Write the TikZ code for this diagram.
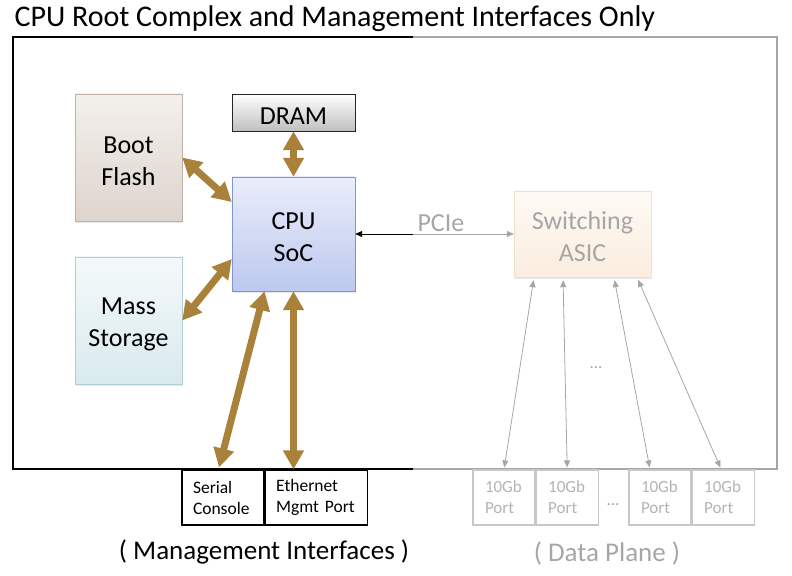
\documentclass[tikz,border=0pt]{standalone}
\usepackage{fontspec}
\setmainfont{Carlito}
\usetikzlibrary{positioning,arrows.meta,shadows}

\definecolor{brownarr}{RGB}{169,129,58}
\definecolor{planegray}{RGB}{166,166,166}
\definecolor{portgray}{RGB}{200,200,200}
\definecolor{bootline}{RGB}{190,176,166}
\definecolor{boottop}{RGB}{243,240,237}
\definecolor{bootbot}{RGB}{222,212,204}
\definecolor{cpuline}{RGB}{126,150,204}
\definecolor{cputop}{RGB}{234,237,250}
\definecolor{cpubot}{RGB}{188,200,238}
\definecolor{massline}{RGB}{176,205,211}
\definecolor{masstop}{RGB}{244,249,250}
\definecolor{massbot}{RGB}{217,234,238}
\definecolor{asicline}{RGB}{242,226,204}
\definecolor{asictop}{RGB}{253,250,245}
\definecolor{asicbot}{RGB}{251,237,222}

\begin{document}
\begin{tikzpicture}[x=1bp,y=-1bp,
  box/.style={draw,align=center,inner sep=0pt,font=\fontsize{26bp}{32bp}\selectfont,
    text height=56bp,
    drop shadow={shadow xshift=1bp,shadow yshift=-1.5bp,opacity=.18}},
  iface/.style={draw,line width=1.2bp,align=left,inner xsep=11bp,inner ysep=0pt,
    minimum height=55bp,font=\fontsize{17.5bp}{21bp}\selectfont},
  port/.style={draw=portgray,line width=1.2bp,align=left,text=planegray!85,inner xsep=12bp,
    inner ysep=0pt,text width=38bp,minimum height=55bp,font=\fontsize{17bp}{21bp}\selectfont},
  bigarr/.style={brownarr,line width=7bp,
    {Triangle[width=20bp,length=19bp]}-{Triangle[width=20bp,length=19bp]}},
  thinarr/.style={planegray,line width=.8bp,
    {Triangle[width=6bp,length=7bp]}-{Triangle[width=6bp,length=7bp]}}]
\useasboundingbox (0,0) rectangle (792,576);

\node[anchor=base west,font=\fontsize{30bp}{36bp}\selectfont] (title) at (11,27)
  {CPU Root Complex and Management Interfaces Only};

\draw[line width=1.5bp] (413,37) -- (13,37) -- (13,469) -- (413,469);
\draw[planegray,line width=1.5bp] (413,37) -- (777,37) -- (777,469) -- (413,469);

\node[box,draw=bootline,top color=boottop,bottom color=bootbot,
  minimum width=107bp,minimum height=127bp] (boot) at (128.5,157.5) {Boot\\Flash};
\node[box,draw=black!85,top color=white,bottom color=black!25,text height=24bp,
  minimum width=123bp,minimum height=37bp] (dram) at (293.5,112.5) {DRAM};
\node[box,draw=cpuline,top color=cputop,bottom color=cpubot,
  minimum width=123bp,minimum height=114bp] (cpu) at (293.5,234) {CPU\\SoC};
\node[box,draw=massline,top color=masstop,bottom color=massbot,
  minimum width=107bp,minimum height=127bp] (mass) at (128.5,320.5) {Mass\\Storage};
\node[box,draw=asicline,text=planegray,top color=asictop,bottom color=asicbot,
  minimum width=137bp,minimum height=86bp] (asic) at (582.5,234) {Switching\\ASIC};

\node[iface,text width=60bp] (serial) at (223,497.5) {Serial\\Console};
\node[iface,text width=80bp,right=0bp of serial] (eth) {Ethernet\\Mgmt Port};

\node[port] (p1) at (504,497.5) {10Gb\\Port};
\node[port,right=0bp of p1] (p2) {10Gb\\Port};
\node[port] (p3) at (660,497.5) {10Gb\\Port};
\node[port,right=0bp of p3] (p4) {10Gb\\Port};
\node[text=planegray,font=\fontsize{17bp}{21bp}\selectfont] (dotsp) at (613,505) {...};
\node[text=planegray,font=\fontsize{17bp}{21bp}\selectfont] (dotsm) at (596,368) {...};

\node[anchor=base,font=\fontsize{27bp}{32bp}\selectfont] (mgmt) at (264,559)
  {( Management Interfaces )};
\node[anchor=base,text=planegray,font=\fontsize{27bp}{32bp}\selectfont] (plane) at (607,561)
  {( Data Plane )};

\draw[bigarr] (boot.east) -- ([yshift=32bp]cpu.west);
\draw[bigarr] (mass.east) -- ([yshift=-25bp]cpu.west);
\draw[bigarr] (dram.south) -- (cpu.north);
\draw[bigarr] ([xshift=-29bp]cpu.south) -- ([xshift=-4bp,yshift=2bp]serial.north);
\draw[bigarr] (cpu.south) -- (cpu.south |- eth.north);

\coordinate (split) at (413,234);
\draw[line width=.8bp,-{Triangle[width=6bp,length=7bp]}] (split) -- (cpu.east);
\draw[planegray,line width=.8bp,-{Triangle[width=6bp,length=7bp]}] (split) -- (asic.west);
\node[anchor=base west,text=planegray,font=\fontsize{26bp}{32bp}\selectfont] (pcie) at (414,232) {PCIe};

\draw[thinarr,shorten <=3bp,shorten >=2bp] ([xshift=-48.5bp]asic.south) -- (p1.north);
\draw[thinarr,shorten <=3bp,shorten >=2bp] ([xshift=-19.5bp]asic.south) -- (p2.north);
\draw[thinarr,shorten <=3bp,shorten >=2bp] ([xshift=31.5bp]asic.south) -- ([xshift=-10bp]p3.north);
\draw[thinarr,shorten <=3bp,shorten >=2bp] ([xshift=54.5bp]asic.south) -- ([xshift=-2bp]p4.north);
\end{tikzpicture}
\end{document}
